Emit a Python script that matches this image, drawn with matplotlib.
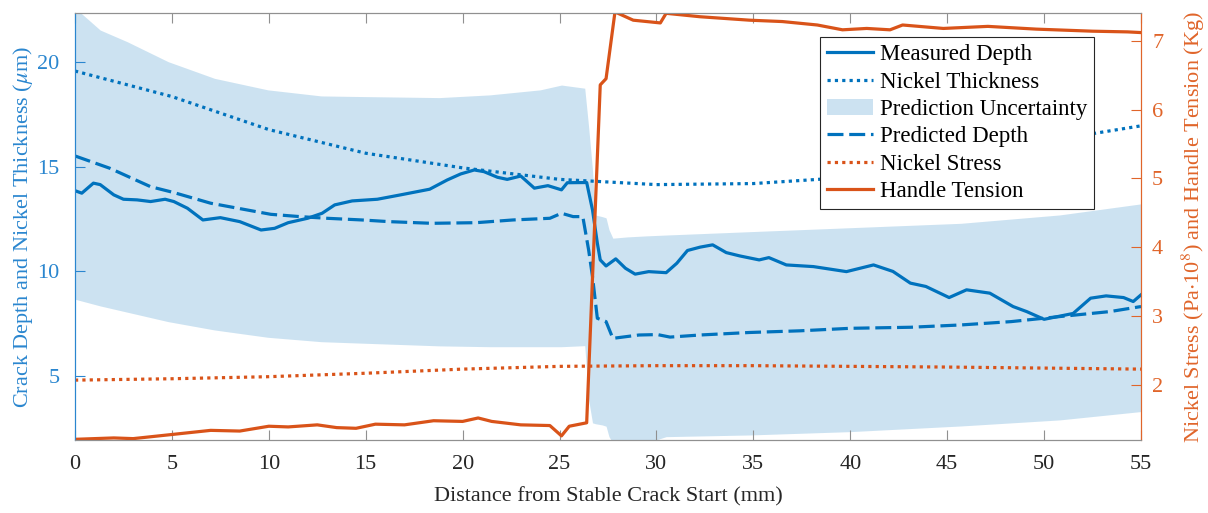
import numpy as np
import matplotlib
matplotlib.use("Agg")
import matplotlib.pyplot as plt

plt.rcParams['font.family'] = ['Liberation Serif', 'DejaVu Serif']
plt.rcParams['mathtext.fontset'] = 'stix'

# colours (matlab default pair)
blue = '#0072BD'
orange = '#D95319'
blue_axis = '#2A86CF'
orange_axis = '#E0652A'

# measured crack depth (um)
meas_x = [0, 0.35, 0.95, 1.3, 2.0, 2.5, 3.2, 3.9, 4.65, 5.1, 5.8, 6.6, 7.5, 8.5, 9.6, 10.3, 11.0, 12.0,
          12.75, 13.4, 14.3, 15.6, 16.8, 18.3, 19.2, 19.9, 20.6, 21.1, 21.8, 22.3, 23.0, 23.7, 24.4, 25.1,
          25.4, 26.4, 26.7, 26.95, 27.1, 27.4, 27.9, 28.4, 28.9, 29.6, 30.5, 31.05, 31.6, 32.25, 32.9, 33.6,
          34.3, 35.3, 35.8, 36.7, 38.1, 39.8, 41.2, 42.2, 43.1, 43.9, 45.1, 46.0, 47.2, 48.4, 49.1, 50.0,
          50.8, 51.5, 52.4, 53.2, 54.1, 54.6, 55]
meas_y = [13.86, 13.74, 14.22, 14.15, 13.66, 13.45, 13.42, 13.34, 13.45, 13.34, 13.02, 12.46, 12.57, 12.38,
          11.98, 12.06, 12.33, 12.54, 12.78, 13.18, 13.37, 13.45, 13.66, 13.93, 14.37, 14.66, 14.85, 14.77,
          14.50, 14.40, 14.56, 13.98, 14.10, 13.90, 14.24, 14.25, 12.94, 11.35, 10.55, 10.26, 10.60, 10.15,
          9.87, 9.99, 9.94, 10.39, 11.00, 11.16, 11.27, 10.90, 10.74, 10.55, 10.66, 10.31, 10.23, 9.99,
          10.31, 10.00, 9.44, 9.28, 8.75, 9.12, 8.96, 8.32, 8.08, 7.71, 7.86, 7.99, 8.72, 8.83, 8.75,
          8.56, 8.88]

# nickel thickness (um)
thick_x = [0, 5, 10, 15, 20, 25, 30, 35, 40, 45, 50, 52.6, 55]
thick_y = [19.58, 18.36, 16.78, 15.65, 14.95, 14.40, 14.15, 14.20, 14.50, 15.10, 15.90, 16.60, 16.96]

# predicted depth (um)
pred_x = [0, 1.8, 3.9, 5.1, 7.0, 8.4, 10.1, 11.6, 13.0, 14.8, 16.2, 18.4, 20.7, 22.6, 24.5, 25.1, 25.7,
          26.2, 26.5, 26.7, 26.95, 27.4, 27.75, 29.1, 30.05, 30.7, 32.25, 34.8, 37.4, 40, 43.1, 45.7, 48.3,
          50.8, 53.4, 55]
pred_y = [15.52, 14.93, 14.05, 13.77, 13.26, 13.02, 12.73, 12.62, 12.54, 12.46, 12.38, 12.30, 12.33, 12.46,
          12.54, 12.78, 12.62, 12.62, 11.03, 9.75, 7.76, 7.60, 6.80, 6.96, 6.98, 6.86, 6.96, 7.08, 7.16,
          7.28, 7.33, 7.44, 7.60, 7.84, 8.08, 8.32]

# prediction uncertainty band (um)
band_x = [0, 1.3, 2.7, 4.8, 7.2, 9.95, 12.7, 14.8, 18.8, 21.4, 24.0, 25.1, 26.3, 26.5, 26.7, 26.84, 27.2,
          27.4, 27.55, 27.75, 28.5, 29.5, 30.5, 34.8, 40, 45.7, 50.8, 55]
band_hi = [22.6, 21.54, 20.98, 20.03, 19.23, 18.68, 18.39, 18.36, 18.31, 18.44, 18.68, 18.91, 18.76, 16.92,
           14.85, 12.70, 12.62, 12.56, 12.00, 11.59, 11.65, 11.70, 11.74, 11.90, 12.09, 12.30, 12.70, 13.23]
band_lo = [8.67, 8.35, 8.05, 7.60, 7.20, 6.85, 6.64, 6.57, 6.44, 6.40, 6.40, 6.40, 6.45, 3.86, 2.76, 2.72,
           2.66, 2.60, 2.10, 1.80, 1.50, 1.80, 2.10, 2.18, 2.34, 2.61, 2.90, 3.30]

# nickel stress (Pa*1e8), right axis
stress_x = [0, 5, 10, 15, 20, 25, 30, 35, 40, 45, 50, 55]
stress_y = [2.07, 2.09, 2.12, 2.17, 2.23, 2.27, 2.28, 2.28, 2.27, 2.26, 2.245, 2.23]

# handle tension (kg), right axis
tens_x = [0, 2, 3, 5, 7, 8.5, 10, 11, 12.5, 13.5, 14.5, 15.5, 17, 18.5, 20, 20.8, 21.5, 23, 24.5, 25.1,
          25.5, 26.4, 27.1, 27.4, 27.86, 28.8, 30.2, 30.5, 32.25, 34.8, 36.5, 38.3, 39.6, 40.85, 42.05,
          42.7, 44.8, 47.1, 49.6, 52.5, 54.3, 55]
tens_y = [1.21, 1.23, 1.22, 1.28, 1.34, 1.33, 1.40, 1.39, 1.42, 1.38, 1.37, 1.43, 1.42, 1.48, 1.47, 1.52,
          1.47, 1.42, 1.41, 1.26, 1.40, 1.45, 6.36, 6.45, 7.42, 7.30, 7.26, 7.40, 7.35, 7.30, 7.28, 7.23,
          7.16, 7.18, 7.16, 7.23, 7.18, 7.21, 7.17, 7.14, 7.13, 7.12]

fs = 16
lw = 2.3

fig = plt.figure(figsize=(12.08, 5.13), dpi=100)
ax = fig.add_axes([75 / 1208, 73 / 513, 1066 / 1208, 426.7 / 513])
ax2 = ax.twinx()

h_meas, = ax.plot(meas_x, meas_y, color=blue, lw=lw, label='Measured Depth')
h_thick, = ax.plot(thick_x, thick_y, color=blue, lw=lw, linestyle=(0, (1, 1.3)), label='Nickel Thickness')
h_band = ax.fill_between(band_x, band_lo, band_hi, color=blue, alpha=0.2, linewidth=0,
                         label='Prediction Uncertainty', zorder=0)
h_pred, = ax.plot(pred_x, pred_y, color=blue, lw=lw, linestyle=(0, (5, 1.8)), label='Predicted Depth')

h_stress, = ax2.plot(stress_x, stress_y, color=orange, lw=lw, linestyle=(0, (1, 1.3)), label='Nickel Stress')
h_tens, = ax2.plot(tens_x, tens_y, color=orange, lw=lw, label='Handle Tension')

ax.set_xlim(0, 55)
ax.set_ylim(1.94, 22.34)
ax2.set_ylim(1.20, 7.40)
ax.set_xticks(np.arange(0, 56, 5))
ax.set_yticks([5, 10, 15, 20])
ax2.set_yticks([2, 3, 4, 5, 6, 7])

ax.tick_params(axis='x', direction='in', length=7, top=True, colors='#909090', labelcolor='#262626',
               labelsize=fs, pad=11)
ax.tick_params(axis='y', direction='in', length=7, colors=blue_axis, labelsize=fs, pad=11)
ax2.tick_params(axis='y', direction='in', length=7, colors=orange_axis, labelsize=fs, pad=8)

for a in (ax, ax2):
    a.spines['top'].set_color('#909090')
    a.spines['bottom'].set_color('#909090')
    a.spines['left'].set_color(blue_axis)
    a.spines['right'].set_color(orange_axis)

ax.set_xlabel('Distance from Stable Crack Start (mm)', fontsize=fs, color='#262626', labelpad=9)
ax.set_ylabel(r'Crack Depth and Nickel Thickness ($\mu$m)', fontsize=fs, color=blue_axis, labelpad=2)
ax2.set_ylabel(r'Nickel Stress (Pa$\cdot$10$^8$) and Handle Tension (Kg)', fontsize=fs, color=orange_axis,
               labelpad=12)

handles = [h_meas, h_thick, h_band, h_pred, h_stress, h_tens]
leg = ax2.legend(handles=handles, loc='upper right', bbox_to_anchor=(0.956, 0.944), borderaxespad=0,
                 fontsize=16.5, frameon=True, fancybox=False, framealpha=1, edgecolor='#262626',
                 handlelength=2.0, handletextpad=0.3, labelspacing=0.28, borderpad=0.3)
leg.get_frame().set_linewidth(0.8)

plt.savefig('out.png', dpi=100)
